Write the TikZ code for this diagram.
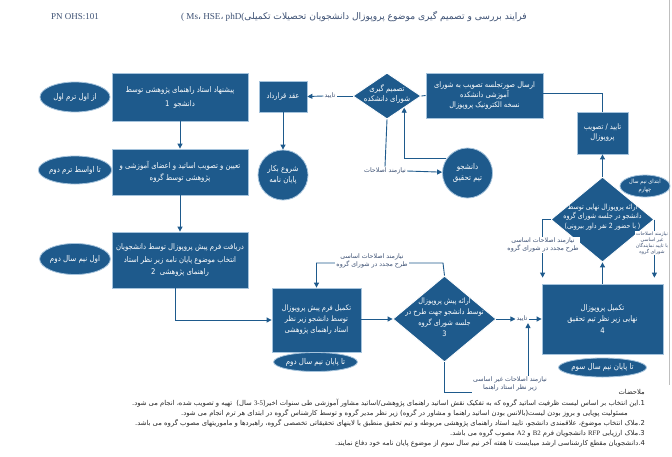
\documentclass[tikz,border=0pt]{standalone}
\usepackage{fontspec}
\setmainfont{Liberation Serif}
\newfontfamily\farsi[Script=Arabic]{DejaVu Sans}
\newfontfamily\farsibox[Script=Arabic, FakeStretch=0.88]{DejaVu Sans}
\TeXXeTstate=1
\usetikzlibrary{shapes.geometric, arrows.meta}

\definecolor{flowblue}{RGB}{30,90,140}
\definecolor{flowrim}{RGB}{165,195,220}
\definecolor{tagblue}{RGB}{60,80,115}
\newcommand{\fa}[1]{\beginR #1\endR}
\newcommand{\la}[1]{\beginL{\rmfamily #1}\endL}

\tikzset{
  stepbox/.style={rectangle, fill=flowblue, draw=flowrim, line width=0.8pt, text=white, align=center, inner sep=0pt, font=\farsibox\fontsize{7.8}{12.5}\selectfont},
  choice/.style={diamond, fill=flowblue, draw=white, line width=0.8pt, inner sep=0pt},
  choicetext/.style={text=white, align=center, inner sep=0pt, font=\farsibox\fontsize{7.5}{11}\selectfont},
  timetag/.style={ellipse, fill=flowblue, draw=flowrim, line width=0.8pt, text=white, inner sep=0pt, align=center, font=\farsibox\fontsize{8}{9}\selectfont},
  roundbox/.style={circle, fill=flowblue, draw=flowrim, line width=0.8pt, text=white, inner sep=0pt, align=center, minimum size=50pt, font=\farsibox\fontsize{8}{10.5}\selectfont},
  link/.style={draw=flowblue, line width=0.9pt},
  tag/.style={text=tagblue, fill=white, inner sep=1pt, align=center, font=\farsi\fontsize{6.3}{7.5}\selectfont},
  note/.style={anchor=east, inner sep=0pt, text=black!85, font=\farsi\fontsize{6.8}{8}\selectfont}
}

\begin{document}
\begin{tikzpicture}[x=1pt, y=-1pt, >={Triangle[length=5pt,width=5pt]}]
    \fill[white] (0,0) rectangle (672,456);
    \useasboundingbox (0,0) rectangle (672,456);
    \draw[black!25, line width=0.6pt] (669,0) -- (669,385);

    % header
    \node[font=\fontsize{9}{10}\selectfont, text=tagblue] (pn) at (75,17) {PN OHS:101};
    \node[font=\farsi\fontsize{9.1}{10}\selectfont, text=tagblue] (title) at (354,17)
        {\fa{فرایند بررسی و تصمیم گیری موضوع پروپوزال دانشجویان تحصیلات تکمیلی\la{( Ms{\farsi ،} HSE{\farsi ،} phD(}}};

    % left column
    \node[stepbox, minimum width=136pt, minimum height=48pt, font=\farsibox\fontsize{7.8}{14}\selectfont] (propose) at (180,97)
        {\fa{پیشنهاد استاد راهنمای پژوهشی توسط}\\\fa{دانشجو\ \ 1}};
    \node[stepbox, minimum width=136pt, minimum height=46pt] (assign) at (180,172)
        {\fa{تعیین و تصویب اساتید و اعضای آموزشی و}\\\fa{پژوهشی توسط گروه}};
    \node[stepbox, minimum width=136pt, minimum height=56pt] (topic) at (180,260)
        {\fa{دریافت فرم پیش پروپوزال توسط دانشجویان}\\\fa{انتخاب موضوع پایان نامه زیر نظر استاد}\\\fa{راهنمای پژوهشی\ \ 2}};
    \node[timetag, minimum width=70pt, minimum height=30pt] (term1) at (75,97) {\fa{از اول ترم اول}};
    \node[timetag, minimum width=70pt, minimum height=28pt] (term2) at (75,170) {\fa{تا اواسط ترم دوم}};
    \node[timetag, minimum width=70pt, minimum height=31pt] (term3) at (75,259) {\fa{اول نیم سال دوم}};

    % group council
    \node[stepbox, minimum width=89pt, minimum height=64pt, font=\farsibox\fontsize{7.5}{11}\selectfont] (preform) at (316.5,320)
        {\fa{تکمیل فرم پیش پروپوزال}\\\fa{توسط دانشجو زیر نظر}\\\fa{استاد راهنمای پژوهشی}};
    \node[timetag, minimum width=73pt, minimum height=19pt] (term4) at (315.5,362) {\fa{تا پایان نیم سال دوم}};
    \node[choice, minimum width=103pt, minimum height=86pt] (group3) at (444.5,319) {};
    \node[choicetext] at (444.5,317.5)
        {\fa{ارائه پیش پروپوزال}\\\fa{توسط دانشجو جهت طرح در}\\\fa{جلسه شورای گروه}\\3};
    \node[stepbox, minimum width=121pt, minimum height=70pt, font=\farsibox\fontsize{7.8}{11.5}\selectfont] (final) at (602.5,319)
        {\fa{تکمیل پروپوزال}\\\fa{نهایی زیر نظر تیم تحقیق}\\4};
    \node[timetag, minimum width=79pt, minimum height=19pt] (term5) at (602.5,367.5) {\fa{تا پایان نیم سال سوم}};
    \node[choice, minimum width=103pt, minimum height=85pt] (group4) at (602.5,219.5) {};
    \node[choicetext, font=\farsibox\fontsize{7.1}{9.3}\selectfont] at (602.5,217)
        {\fa{ارائه پروپوزال نهایی توسط}\\\fa{دانشجو در جلسه شورای گروه}\\\fa{( با حضور 2 نفر داور بیرونی)}};
    \node[timetag, minimum width=50pt, minimum height=22pt, font=\farsibox\fontsize{5.8}{8}\selectfont] (term6) at (645,186)
        {\fa{ابتدای نیم سال}\\\fa{چهارم}};

    % faculty council
    \node[stepbox, minimum width=51pt, minimum height=42pt, font=\farsibox\fontsize{7.6}{10}\selectfont] (approve) at (602.5,133)
        {\fa{تایید / تصویب}\\\fa{پروپوزال}};
    \node[stepbox, minimum width=117pt, minimum height=45pt, font=\farsibox\fontsize{7.6}{9.7}\selectfont] (send) at (484.5,95.5)
        {\fa{ارسال صورتجلسه تصویب به شورای}\\\fa{آموزشی دانشکده}\\\fa{نسخه الکترونیک پروپوزال}};
    \node[choice, minimum width=68pt, minimum height=46pt] (council) at (387,96) {};
    \node[choicetext, font=\farsibox\fontsize{7.8}{10}\selectfont] at (387,94) {\fa{تصمیم گیری}\\\fa{شورای دانشکده}};
    \node[roundbox] (team) at (467.5,173) {\fa{دانشجو}\\\fa{تیم تحقیق}};
    \node[stepbox, minimum width=48pt, minimum height=31pt, font=\farsibox\fontsize{7.6}{10}\selectfont] (contract) at (283,96.5) {\fa{عقد قرارداد}};
    \node[roundbox] (start) at (283,175) {\fa{شروع بکار}\\\fa{پایان نامه}};

    % connector labels
    \node[tag] (ok1) at (330,96) {\fa{تایید}};
    \node[tag] (fix1) at (385,171) {\fa{نیازمند اصلاحات}};
    \node[tag] (ok3) at (522,319) {\fa{تایید}};
    \node[tag] (minor3) at (510,384) {\fa{نیازمند اصلاحات غیر اساسی}\\\fa{زیر نظر استاد راهنما}};

    % connectors
    \draw[link, ->] (propose) -- (assign);
    \draw[link, ->] (assign) -- (topic);
    \draw[link, ->] ([xshift=-5pt]topic.south) |- (preform.west);
    \draw[link, ->] (preform.east |- group3) -- (group3.west);
    \draw[link, ->] (group3.north) -- (443,263) -| (preform.north);
    \draw[link, ->] (group3.east) -- (ok3.west);
    \draw[link, ->] (ok3.east) -- (final.west);
    \draw[link] (group3.south) |- (minor3.south west);
    \draw[link, ->] ([xshift=18pt]minor3.north) -- ([xshift=18pt]minor3.north |- ok3.south);
    \draw[link, ->] (final.north) -- (group4.south);
    \draw[link, ->, shorten >=6pt] (group4.west) -| ([xshift=1pt]final.north west);
    \draw[link, ->, shorten >=6pt] (group4.east) -- (group4.east |- final.north);
    \draw[link, ->] (group4.north) -- (approve.south);
    \draw[link] (approve.north) |- ([yshift=2pt]send.east);
    \draw[link] (council.east) -- (send.west);
    \draw[link] (council.west) -- (ok1.east);
    \draw[link, ->] (ok1.west) -- (contract.east);
    \draw[link, ->] (contract) -- (start);
    \draw[link] (council.south) -- (fix1.north);
    \draw[link, ->] (fix1.east) -- (team);
    \draw[link, ->] (team.146) -| (council.south east);

    % labels lying on lines
    \node[tag] (major3) at (372,261) {\fa{نیازمند اصلاحات اساسی}\\\fa{طرح مجدد در شورای گروه}};
    \node[tag] (major4) at (543,245) {\fa{نیازمند اصلاحات اساسی}\\\fa{طرح مجدد در شورای گروه}};
    \node[tag, font=\farsi\fontsize{4.8}{6}\selectfont] (minor4) at (652,243)
        {\fa{نیازمند اصلاحات}\\\fa{غیر اساسی}\\\fa{با تایید نمایندگان}\\\fa{شورای گروه}};

    % notes
    \node[note] (n0) at (645,392) {\fa{ملاحضات}};
    \node[note] (n1) at (645,403) {\fa{1.این انتخاب بر اساس لیست ظرفیت اساتید گروه که به تفکیک نقش اساتید راهنمای پژوهشی/اساتید مشاور آموزشی طی سنوات اخیر(\la{3-5} سال)\ \ تهیه و تصویب شده، انجام می شود.}};
    \node[note] (n1b) at (628,413) {\fa{مسئولیت پویایی و بروز بودن لیست(بالانس بودن اساتید راهنما و مشاور در گروه) زیر نظر مدیر گروه و توسط کارشناس گروه در ابتدای هر ترم انجام می شود.}};
    \node[note] (n2) at (645,423) {\fa{2.ملاک انتخاب موضوع، علاقمندی دانشجو، تایید استاد راهنمای پژوهشی مربوطه و تیم تحقیق منطبق با لاینهای تحقیقاتی تخصصی گروه، راهبردها و ماموریتهای مصوب گروه می باشد.}};
    \node[note] (n3) at (645,433) {\fa{3.ملاک ارزیابی \la{RFP} دانشجویان فرم \la{B2} و \la{A2} مصوب گروه می باشد.}};
    \node[note] (n4) at (645,443) {\fa{4.دانشجویان مقطع کارشناسی ارشد میبایست تا هفته آخر نیم سال سوم از موضوع پایان نامه خود دفاع نمایند.}};
\end{tikzpicture}
\end{document}
